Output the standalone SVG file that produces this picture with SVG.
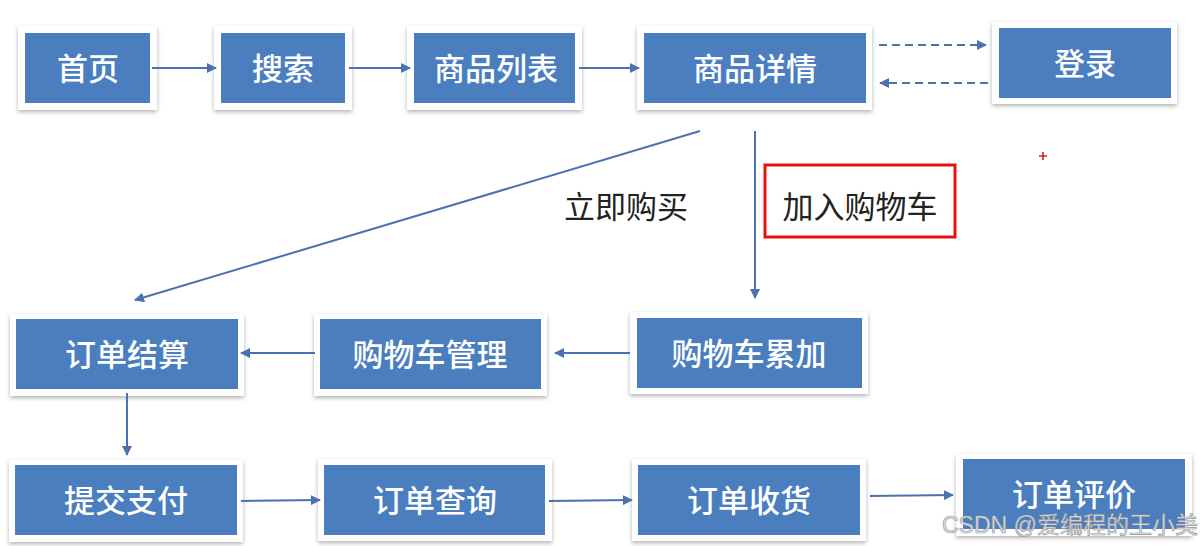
<svg xmlns="http://www.w3.org/2000/svg" width="1200" height="546" viewBox="0 0 1200 546">
<defs>
<filter id="sh" x="-10%" y="-10%" width="120%" height="130%">
<feDropShadow dx="0" dy="2" stdDeviation="2" flood-color="#000" flood-opacity="0.3"/>
</filter>
<marker id="ah" markerWidth="10" markerHeight="10" refX="9" refY="5" orient="auto" markerUnits="userSpaceOnUse">
<path d="M0,0 L10,5 L0,10 Z" fill="#4a72ae"/>
</marker>
</defs>
<style>
.frame{fill:#fff;filter:url(#sh)}
.box{fill:#4a7ebf}
.t{font-family:"Noto Sans CJK SC",sans-serif;font-size:31px;font-weight:500;fill:#fff;text-anchor:middle;dominant-baseline:central}
.lbl{font-family:"Noto Sans CJK SC",sans-serif;font-size:31px;fill:#222;text-anchor:middle;dominant-baseline:central}
.c{stroke:#4a72ae;stroke-width:2;fill:none;marker-end:url(#ah)}
.d{stroke-dasharray:8,5}
</style>
<rect width="1200" height="546" fill="#fff"/>
<g id="n-home"><rect class="frame" x="18" y="26" width="139" height="84"/><rect class="box" x="25" y="33" width="125" height="70"/><text class="t" x="88" y="66">首页</text></g>
<g id="n-search"><rect class="frame" x="214" y="26" width="138" height="84"/><rect class="box" x="221" y="33" width="124" height="70"/><text class="t" x="283" y="66">搜索</text></g>
<g id="n-list"><rect class="frame" x="407" y="26" width="175" height="84"/><rect class="box" x="414" y="33" width="161" height="70"/><text class="t" x="496" y="66">商品列表</text></g>
<g id="n-detail"><rect class="frame" x="637" y="26" width="235" height="84"/><rect class="box" x="644" y="33" width="222" height="70"/><text class="t" x="755" y="66">商品详情</text></g>
<g id="n-login"><rect class="frame" x="992" y="22" width="185" height="82"/><rect class="box" x="999" y="28" width="172" height="70"/><text class="t" x="1085" y="61">登录</text></g>
<g id="n-settle"><rect class="frame" x="10" y="314" width="234" height="82"/><rect class="box" x="16" y="319" width="222" height="70"/><text class="t" x="127" y="352">订单结算</text></g>
<g id="n-cartmgr"><rect class="frame" x="314" y="314" width="233" height="82"/><rect class="box" x="320" y="319" width="221" height="70"/><text class="t" x="430" y="352">购物车管理</text></g>
<g id="n-cartadd"><rect class="frame" x="630" y="312" width="238" height="82"/><rect class="box" x="637" y="318" width="225" height="70"/><text class="t" x="749" y="351">购物车累加</text></g>
<g id="n-pay"><rect class="frame" x="9" y="460" width="234" height="82"/><rect class="box" x="15" y="465" width="222" height="70"/><text class="t" x="126" y="498">提交支付</text></g>
<g id="n-query"><rect class="frame" x="318" y="459" width="234" height="82"/><rect class="box" x="324" y="465" width="221" height="70"/><text class="t" x="435" y="498">订单查询</text></g>
<g id="n-recv"><rect class="frame" x="632" y="459" width="234" height="82"/><rect class="box" x="638" y="465" width="222" height="70"/><text class="t" x="749" y="498">订单收货</text></g>
<g id="n-review"><rect class="frame" x="956" y="454" width="236" height="82"/><rect class="box" x="963" y="459" width="222" height="70"/><text class="t" x="1074" y="492">订单评价</text></g>
<g id="connectors">
<line class="c" x1="152" y1="68" x2="216" y2="68"/>
<line class="c" x1="349" y1="68" x2="410" y2="68"/>
<line class="c" x1="579" y1="68" x2="639" y2="68"/>
<line class="c d" x1="879" y1="45" x2="986" y2="45"/>
<line class="c d" x1="988" y1="83" x2="880" y2="83"/>
<line class="c" x1="700" y1="131" x2="135" y2="300"/>
<line class="c" x1="755" y1="131" x2="755" y2="298"/>
<line class="c" x1="630" y1="353" x2="555" y2="353"/>
<line class="c" x1="315" y1="353" x2="241" y2="353"/>
<line class="c" x1="127" y1="393" x2="127" y2="455"/>
<line class="c" x1="241" y1="501" x2="320" y2="500"/>
<line class="c" x1="549" y1="501" x2="632" y2="500"/>
<line class="c" x1="870" y1="496" x2="953" y2="495"/>
</g>
<text class="lbl" x="626" y="204">立即购买</text>
<rect x="765" y="165" width="190" height="72" fill="none" stroke="#e8130f" stroke-width="3"/>
<text class="lbl" x="860" y="204">加入购物车</text>
<path d="M1039,156 h8 M1043,152 v8" stroke="#d92020" stroke-width="1.6"/>
<text x="942" y="533" font-family="Liberation Sans,'Noto Sans CJK SC',sans-serif" font-size="23" fill="#e4e4e4" stroke="#9a9a9a" stroke-width="0.7">CSDN @爱编程的王小美</text>
</svg>
